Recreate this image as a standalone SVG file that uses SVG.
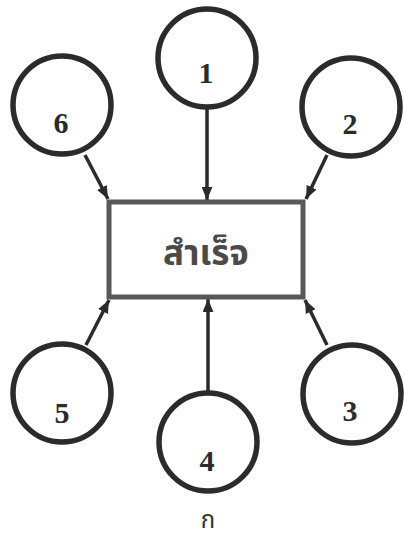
<svg xmlns="http://www.w3.org/2000/svg" width="404" height="544" viewBox="0 0 404 544">
<style>
.c{fill:#fff;stroke:#2b2b2b;stroke-width:5.5}
.n{font-family:"Liberation Serif",serif;font-weight:bold;font-size:30px;fill:#2b2b2b;text-anchor:middle}
.e{stroke:#2b2b2b;stroke-width:3.5;fill:none;marker-end:url(#ah)}
</style>
<defs>
<marker id="ah" viewBox="0 0 12 10" refX="12" refY="5" markerWidth="13" markerHeight="11" markerUnits="userSpaceOnUse" orient="auto">
<path d="M0,0 L12,5 L0,10 z" fill="#2b2b2b"/>
</marker>
</defs>
<rect width="404" height="544" fill="#fff"/>
<g id="connectors">
<line class="e" x1="207" y1="108" x2="207" y2="200"/>
<line class="e" x1="327" y1="155" x2="306" y2="199"/>
<line class="e" x1="327" y1="345" x2="305" y2="300"/>
<line class="e" x1="208" y1="392" x2="208" y2="299"/>
<line class="e" x1="86" y1="345" x2="109" y2="300"/>
<line class="e" x1="85" y1="155" x2="108" y2="199"/>
</g>
<g id="center">
<rect x="109" y="202" width="194" height="95" fill="#fff" stroke="#585858" stroke-width="5"/>
<text x="206" y="265" font-family="'Noto Sans Thai','Noto Sans',sans-serif" font-weight="bold" font-size="35" fill="#4a4a4a" text-anchor="middle">สำเร็จ</text>
</g>
<g id="n1"><circle class="c" cx="207" cy="58" r="49"/><text class="n" x="206" y="83">1</text></g>
<g id="n2"><circle class="c" cx="351" cy="107" r="49"/><text class="n" x="350" y="134">2</text></g>
<g id="n3"><circle class="c" cx="352" cy="394" r="49"/><text class="n" x="350" y="421">3</text></g>
<g id="n4"><circle class="c" cx="208" cy="442" r="49"/><text class="n" x="207" y="471">4</text></g>
<g id="n5"><circle class="c" cx="62" cy="393" r="49"/><text class="n" x="62" y="423">5</text></g>
<g id="n6"><circle class="c" cx="62" cy="105" r="49"/><text class="n" x="61" y="133">6</text></g>
<text x="208" y="528" font-family="'Noto Sans Thai','Noto Sans',sans-serif" font-size="24" fill="#333" text-anchor="middle">ก</text>
</svg>
